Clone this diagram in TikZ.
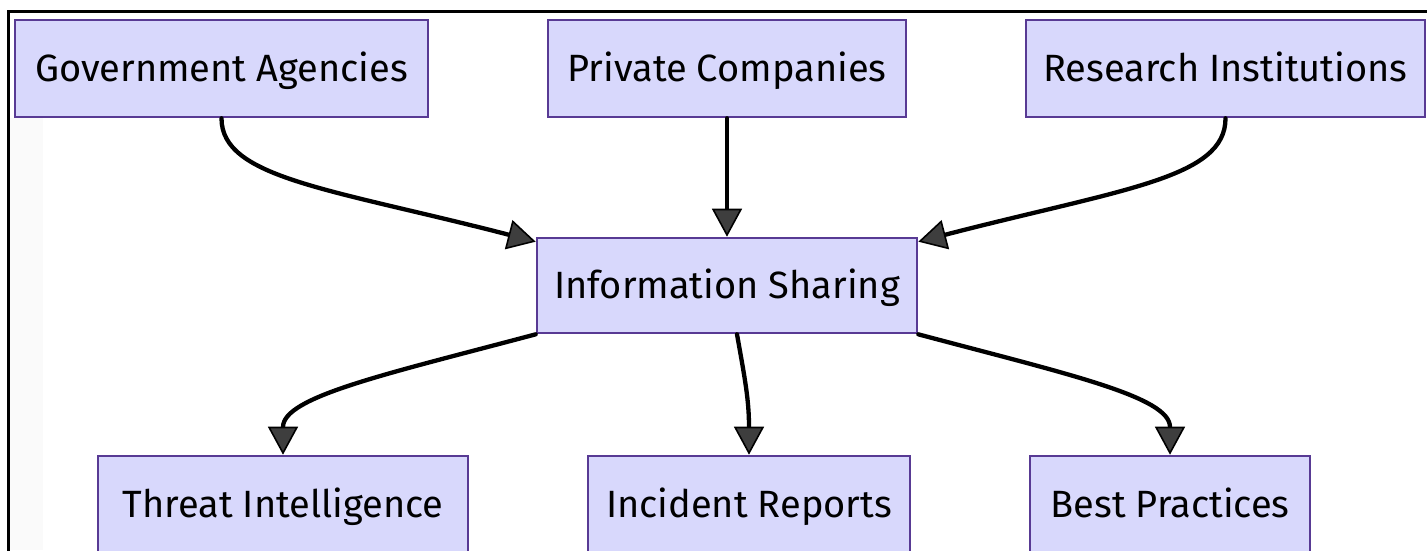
\documentclass[tikz,border=0pt]{standalone}
\usepackage{fontspec}
\setmainfont{Fira Sans}
\usetikzlibrary{arrows.meta,calc}
\definecolor{boxfill}{RGB}{216,216,252}
\definecolor{boxline}{RGB}{88,58,148}
\definecolor{tipfill}{RGB}{62,62,62}
\definecolor{stripgray}{RGB}{250,250,250}
\tikzset{
  entity/.style={draw=boxline, line width=2.6pt, fill=boxfill, inner sep=0pt,
    minimum height=97pt, text=black, text height=26pt, text depth=0pt,
    font=\fontsize{38}{45}\selectfont},
  flow/.style={line width=4.3pt, line cap=round,
    -{Triangle[length=28pt,width=30pt,line width=1.6pt,fill=tipfill]}},
  frameline/.style={line width=3pt, black}
}
\begin{document}
\begin{tikzpicture}[x=1pt,y=-1pt]
  \useasboundingbox (0,0) rectangle (1427,550);
  \clip (0,0) rectangle (1427,550);

  % page frame and side strip
  \fill[stripgray] (9.5,118) rectangle (43,550);
  \draw[frameline] (8,551) -- (8,11) -- (1428,11);

  % sources
  \node[entity, minimum width=413pt] (gov) at (221.5,68.5) {Government Agencies};
  \node[entity, minimum width=358pt] (priv) at (727,68.5) {Private Companies};
  \node[entity, minimum width=399pt] (res) at (1225.5,68.5) {Research Institutions};

  % hub
  \node[entity, minimum width=380pt, minimum height=95pt] (info) at (727,285.5) {Information Sharing};

  % outputs
  \node[entity, minimum width=370pt] (threat) at (283,504.5) {Threat Intelligence};
  \node[entity, minimum width=322pt] (incident) at (749,504.5) {Incident Reports};
  \node[entity, minimum width=280pt] (best) at (1170,504.5) {Best Practices};

  % connector end points on the hub
  \coordinate (inW) at ($(info.north west)+(0,5)$);
  \coordinate (inE) at ($(info.north east)+(0,5)$);
  \coordinate (outM) at ($(info.south)+(10,0)$);

  % incoming flows
  \draw[flow] (gov.south) .. controls +(0,60) and ($(inW)+(-205,-53)$) .. (inW);
  \draw[flow] (priv.south) -- (info.north);
  \draw[flow] (res.south) .. controls +(0,60) and ($(inE)+(205,-53)$) .. (inE);

  % outgoing flows
  \draw[flow] (info.south west) .. controls +(-150,40) and ($(threat.north)+(0,-58)$) .. (threat.north);
  \draw[flow] (outM) .. controls +(8,45) and ($(incident.north)+(0,-55)$) .. (incident.north);
  \draw[flow] (info.south east) .. controls +(150,40) and ($(best.north)+(0,-58)$) .. (best.north);
\end{tikzpicture}
\end{document}
